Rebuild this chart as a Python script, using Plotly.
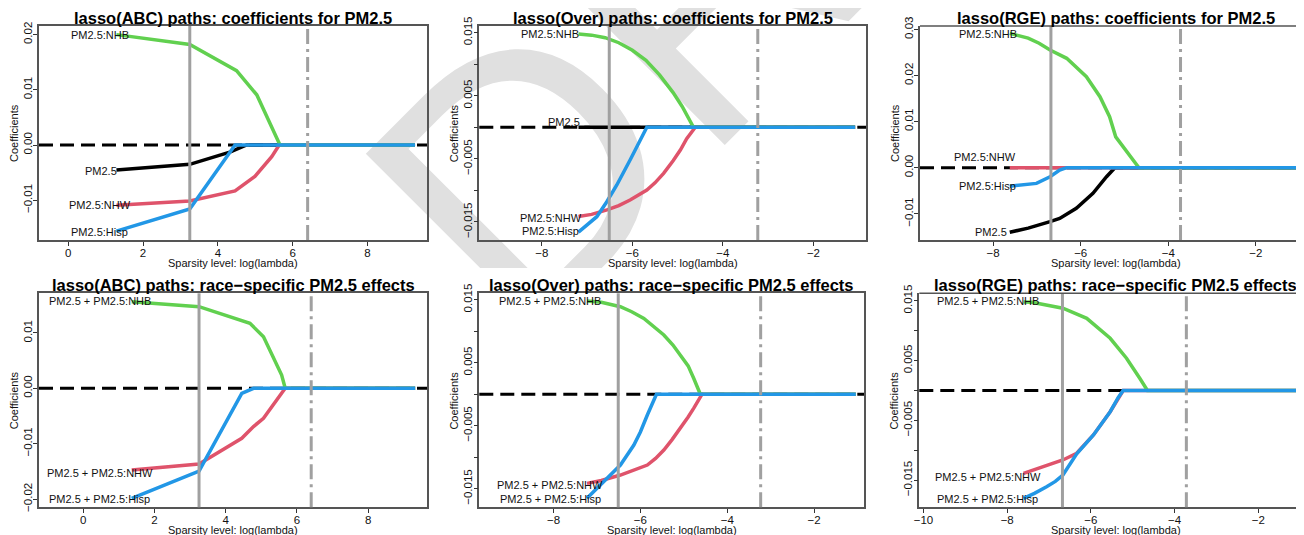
import plotly.graph_objects as go

# ---------------- data ----------------
COLORS = {"pm25": "#000000", "nhw": "#DF536B", "nhb": "#61D04F", "hisp": "#2297E6"}

# Panel 1: lasso(ABC) coefficients, (log(lambda), coefficient)
abc_coef_pm25 = [(1.29, -0.00453), (3.25, -0.0035), (4.32, -0.0013), (4.64, -0.0004), (4.77, 0.0), (9.27, 0.0)]
abc_coef_nhw = [(1.29, -0.0109), (3.25, -0.01015), (4.46, -0.00833), (4.99, -0.0057), (5.44, -0.0021), (5.64, 0.0), (9.27, 0.0)]
abc_coef_nhb = [(1.29, 0.0200), (3.25, 0.0182), (4.50, 0.01346), (5.04, 0.0091), (5.66, 0.0), (9.27, 0.0)]
abc_coef_hisp = [(1.29, -0.0156), (3.25, -0.0116), (4.46, 0.0), (9.27, 0.0)]

# Panel 2: lasso(Over) coefficients
over_coef_pm25 = [(-7.19, 0.0), (-1.08, 0.0)]
over_coef_nhw = [(-7.19, -0.01415), (-6.9, -0.0138), (-6.56, -0.0131), (-6.3, -0.0124), (-6.05, -0.01152),
                 (-5.68, -0.00994), (-5.5, -0.0088), (-5.31, -0.0073), (-5.1, -0.0053), (-4.94, -0.0036),
                 (-4.8, -0.0018), (-4.65, -0.0004), (-4.61, 0.0), (-1.08, 0.0)]
over_coef_nhb = [(-7.19, 0.0148), (-6.9, 0.0146), (-6.6, 0.0142), (-6.3, 0.0134), (-6.0, 0.0122), (-5.7, 0.0106),
                 (-5.4, 0.0083), (-5.1, 0.0055), (-4.9, 0.0033), (-4.75, 0.0012), (-4.65, 0.0), (-1.08, 0.0)]
over_coef_hisp = [(-7.19, -0.0166), (-6.785, -0.01417), (-6.564, -0.01179), (-6.343, -0.00914), (-6.05, -0.00518),
                  (-5.83, -0.0020), (-5.68, 0.0), (-1.08, 0.0)]

# Panel 3: lasso(RGE) coefficients
rge_coef_pm25 = [(-7.62, -0.0140), (-7.2, -0.0131), (-6.70, -0.01171), (-6.48, -0.0110), (-6.10, -0.0088),
                 (-5.72, -0.00556), (-5.41, -0.00195), (-5.22, 0.0), (-1.07, 0.0)]
rge_coef_nhw = [(-7.62, 0.0), (-1.07, 0.0)]
rge_coef_nhb = [(-7.62, 0.02915), (-7.2, 0.0281), (-6.95, 0.0270), (-6.70, 0.02553), (-6.32, 0.02373),
                (-5.87, 0.01974), (-5.56, 0.0154), (-5.34, 0.01106), (-5.20, 0.0067), (-5.03, 0.00456),
                (-4.67, 0.0), (-1.07, 0.0)]
rge_coef_hisp = [(-7.62, -0.0040), (-7.01, -0.0034), (-6.70, -0.00195), (-6.48, -0.0005), (-6.32, 0.0), (-1.07, 0.0)]

# Panel 4: lasso(ABC) race-specific effects
abc_race_nhw = [(1.36, -0.01475), (3.25, -0.01366), (4.45, -0.00903), (4.78, -0.0069), (5.06, -0.00542),
                (5.53, -0.0012), (5.67, 0.0), (9.32, 0.0)]
abc_race_nhb = [(1.36, 0.01563), (3.25, 0.01473), (4.68, 0.01173), (5.06, 0.0093), (5.57, 0.0024), (5.67, 0.0), (9.32, 0.0)]
abc_race_hisp = [(1.36, -0.01986), (3.25, -0.01493), (4.45, -0.0009), (4.78, 0.0), (9.32, 0.0)]

# Panel 5: lasso(Over) race-specific effects
over_race_nhw = [(-7.23, -0.01415), (-6.9, -0.0137), (-6.46, -0.01283), (-6.15, -0.0121), (-5.84, -0.01124),
                 (-5.65, -0.0102), (-5.46, -0.00886), (-5.27, -0.0072), (-5.08, -0.0054), (-4.9, -0.0036),
                 (-4.77, -0.0022), (-4.67, -0.0010), (-4.58, 0.0), (-1.04, 0.0)]
over_race_nhb = [(-7.23, 0.01479), (-6.9, 0.0146), (-6.46, 0.01389), (-6.2, 0.0131), (-5.92, 0.01204), (-5.7, 0.0108),
                 (-5.46, 0.0094), (-5.25, 0.0078), (-5.08, 0.0062), (-4.9, 0.0045), (-4.77, 0.0025), (-4.7, 0.0012),
                 (-4.62, 0.0), (-1.04, 0.0)]
over_race_hisp = [(-7.23, -0.01653), (-6.85, -0.01389), (-6.46, -0.01124), (-6.15, -0.00806), (-6.0, -0.0060),
                  (-5.84, -0.0033), (-5.72, -0.0015), (-5.63, 0.0), (-1.04, 0.0)]

# Panel 6: lasso(RGE) race-specific effects
rge_race_nhw = [(-7.61, -0.01385), (-7.35, -0.0132), (-7.06, -0.01246), (-6.67, -0.01162), (-6.34, -0.0105),
                (-5.94, -0.00744), (-5.54, -0.00355), (-5.35, -0.0012), (-5.23, 0.0), (-1.08, 0.0)]
rge_race_nhb = [(-7.61, 0.0148), (-7.41, 0.01475), (-6.67, 0.01375), (-6.10, 0.01207), (-5.54, 0.00873),
                (-5.15, 0.0054), (-4.83, 0.0020), (-4.65, 0.0), (-1.08, 0.0)]
rge_race_hisp = [(-7.61, -0.01803), (-7.35, -0.0172), (-7.06, -0.01609), (-6.85, -0.0152), (-6.67, -0.01413),
                 (-6.5, -0.0124), (-6.34, -0.0106), (-5.94, -0.00744), (-5.54, -0.00355), (-5.35, -0.0012),
                 (-5.23, 0.0), (-1.08, 0.0)]

# selected lambdas (solid = min, dot-dash = 1se)
abc_lambda = [3.25, 6.40]
over_lambda = [-6.51, -3.23]
rge_lambda = [-6.68, -3.72]

# path labels: (text, x, y)
abc_coef_labels = [("PM2.5:NHB", 0.84, 0.0200), ("PM2.5", 0.87, -0.00465), ("PM2.5:NHW", 0.86, -0.01087), ("PM2.5:Hisp", 0.85, -0.0157)]
over_coef_labels = [("PM2.5:NHB", -7.82, 0.0148), ("PM2.5", -7.51, 0.0009), ("PM2.5:NHW", -7.80, -0.0144), ("PM2.5:Hisp", -7.80, -0.0165)]
rge_coef_labels = [("PM2.5:NHB", -8.12, 0.0291), ("PM2.5:NHW", -8.18, 0.0024), ("PM2.5:Hisp", -8.12, -0.0040), ("PM2.5", -8.05, -0.0140)]
abc_race_labels = [("PM2.5 + PM2.5:NHB", 0.47, 0.01576), ("PM2.5 + PM2.5:NHW", 0.46, -0.01534), ("PM2.5 + PM2.5:Hisp", 0.46, -0.02004)]
over_race_labels = [("PM2.5 + PM2.5:NHB", -8.08, 0.0148), ("PM2.5 + PM2.5:NHW", -8.08, -0.0144), ("PM2.5 + PM2.5:Hisp", -8.08, -0.0166)]
rge_race_labels = [("PM2.5 + PM2.5:NHB", -8.46, 0.0149), ("PM2.5 + PM2.5:NHW", -8.46, -0.0144), ("PM2.5 + PM2.5:Hisp", -8.46, -0.0182)]

titles = ["lasso(ABC) paths: coefficients for PM2.5", "lasso(Over) paths: coefficients for PM2.5",
          "lasso(RGE) paths: coefficients for PM2.5", "lasso(ABC) paths: race\u2212specific PM2.5 effects",
          "lasso(Over) paths: race\u2212specific PM2.5 effects", "lasso(RGE) paths: race\u2212specific PM2.5 effects"]

xticks_pos = [0, 2, 4, 6, 8]
xticks_neg = [-8, -6, -4, -2]
xticks_neg10 = [-10, -8, -6, -4, -2]
yticks_a = [-0.01, 0.0, 0.01, 0.02]
yticks_b = [-0.015, -0.01, -0.005, 0.0, 0.005, 0.01, 0.015]
yticks_c = [-0.01, 0.0, 0.01, 0.02, 0.03]
yticks_d = [-0.02, -0.01, 0.0, 0.01]

XLABEL = "Sparsity level: log(lambda)"
YLABEL = "Coefficients"
WATERMARK = "DRAFT"

# ---------------- geometry ----------------
# The page body has an 8px margin, so the figure starts at (8, 8) of the 1304x535 window.
OFF = 8
VW, VH = 1304, 535
W, H = VW - OFF, VH - OFF
FONT = "Liberation Sans, Arial, Helvetica, sans-serif"
ROW_TOP = (26, 240)
ROW_BOT = (293.3, 507.3)

def pxx(px):  # window pixel x -> paper x
    return (px - OFF) / W

def pxy(py):  # window pixel y -> paper y
    return 1 - (py - OFF) / H

def fmt_y(v, dec, show=True):
    if not show:
        return ""
    s = f"{abs(v):.{dec}f}"
    return ("\u2212" + s) if v < 0 else s

def fmt_x(v):
    return ("\u2212" + str(abs(v))) if v < 0 else str(v)

panels = [
    dict(series=[("pm25", abc_coef_pm25), ("nhw", abc_coef_nhw), ("nhb", abc_coef_nhb), ("hisp", abc_coef_hisp)],
         labels=abc_coef_labels, lam=abc_lambda, box=(39, 427), row=ROW_TOP,
         xr=[-0.78, 9.59], yr=[-0.01721, 0.02156], xt=xticks_pos,
         yt=yticks_a, ytt=[fmt_y(v, 2) for v in yticks_a], cropped=False),
    dict(series=[("pm25", over_coef_pm25), ("nhw", over_coef_nhw), ("nhb", over_coef_nhb), ("hisp", over_coef_hisp)],
         labels=over_coef_labels, lam=over_lambda, box=(479.3, 866), row=ROW_TOP,
         xr=[-9.38, -0.84], yr=[-0.01786, 0.01605], xt=xticks_neg,
         yt=yticks_b, ytt=[fmt_y(v, 3, k % 2 == 0) for k, v in enumerate(yticks_b)], cropped=False),
    dict(series=[("pm25", rge_coef_pm25), ("nhw", rge_coef_nhw), ("nhb", rge_coef_nhb), ("hisp", rge_coef_hisp)],
         labels=rge_coef_labels, lam=rge_lambda, box=(920, 1304), row=ROW_TOP,
         xr=[-9.67, -0.90], yr=[-0.01568, 0.03074], xt=xticks_neg,
         yt=yticks_c, ytt=[fmt_y(v, 2) for v in yticks_c], cropped=True),
    dict(series=[("nhw", abc_race_nhw), ("nhb", abc_race_nhb), ("hisp", abc_race_hisp)],
         labels=abc_race_labels, lam=abc_lambda, box=(39, 427.3), row=ROW_BOT,
         xr=[-1.244, 9.66], yr=[-0.02148, 0.01715], xt=xticks_pos,
         yt=yticks_d, ytt=[fmt_y(v, 2) for v in yticks_d], cropped=False),
    dict(series=[("nhw", over_race_nhw), ("nhb", over_race_nhb), ("hisp", over_race_hisp)],
         labels=over_race_labels, lam=over_lambda, box=(479.3, 864), row=ROW_BOT,
         xr=[-9.71, -0.85], yr=[-0.01795, 0.01602], xt=xticks_neg,
         yt=yticks_b, ytt=[fmt_y(v, 3, k % 2 == 0) for k, v in enumerate(yticks_b)], cropped=False),
    dict(series=[("nhw", rge_race_nhw), ("nhb", rge_race_nhb), ("hisp", rge_race_hisp)],
         labels=rge_race_labels, lam=rge_lambda, box=(919.3, 1304), row=ROW_BOT,
         xr=[-10.1, -0.91], yr=[-0.01953, 0.01625], xt=xticks_neg10,
         yt=yticks_b, ytt=[fmt_y(v, 3, k % 2 == 0) for k, v in enumerate(yticks_b)], cropped=True),
]

fig = go.Figure()
shapes = []
annotations = []
layout_axes = {}

# ---- watermark: first subplot (drawn underneath everything), clipped to the upper figure ----
WM_SIZE = 360
WM_CX, WM_CY = 358 + 1.383 * WM_SIZE, 147 - 0.861 * WM_SIZE   # window pixels of the text centre
WM_CLIP_BOTTOM = 268
fig.add_trace(go.Bar(x=[WM_CX], y=[2], base=[WM_CY - 1], width=[2], xaxis="x", yaxis="y",
                     marker=dict(color="rgba(0,0,0,0)", line=dict(width=0)),
                     text=[WATERMARK], textposition="inside", insidetextanchor="middle",
                     textangle=-45, constraintext="none", cliponaxis=True,
                     insidetextfont=dict(family=FONT, size=WM_SIZE, color="#E0E0E0"),
                     showlegend=False, hoverinfo="skip"))
layout_axes["xaxis"] = dict(domain=[0, 1], range=[OFF, VW], visible=False, fixedrange=True, automargin=False)
layout_axes["yaxis"] = dict(domain=[pxy(WM_CLIP_BOTTOM), 1], range=[WM_CLIP_BOTTOM, OFF], visible=False,
                            fixedrange=True, automargin=False)

AXIS_COLOR = "#555555"
for i, p in enumerate(panels, start=2):
    xa, ya = f"x{i}", f"y{i}"
    xk, yk = f"xaxis{i}", f"yaxis{i}"
    bx0, bx1 = p["box"]
    ry0, ry1 = p["row"]
    mirror = not p["cropped"]
    full_right = 1312 if p["cropped"] else bx1   # cropped panels continue past the picture edge

    # zero reference line
    shapes.append(dict(type="line", xref=f"{xa} domain", yref=ya, x0=0, x1=1, y0=0, y1=0, layer="below",
                       line=dict(color="black", width=3, dash="14px,7px")))
    # paths
    for name, pts in p["series"]:
        fig.add_trace(go.Scatter(x=[a for a, b in pts], y=[b for a, b in pts], mode="lines",
                                 line=dict(color=COLORS[name], width=3.5), xaxis=xa, yaxis=ya,
                                 showlegend=False, hoverinfo="skip"))
    # selected lambda lines
    shapes.append(dict(type="line", xref=xa, yref=f"{ya} domain", x0=p["lam"][0], x1=p["lam"][0], y0=0, y1=1,
                       line=dict(color="#A0A0A0", width=3)))
    shapes.append(dict(type="line", xref=xa, yref=f"{ya} domain", x0=p["lam"][1], x1=p["lam"][1], y0=0, y1=1,
                       line=dict(color="#A0A0A0", width=3, dash="15px,5px,3px,5px")))
    # top border for the cropped right-hand panels
    if p["cropped"]:
        shapes.append(dict(type="line", xref="paper", yref="paper", x0=pxx(bx0), x1=1, y0=pxy(ry0), y1=pxy(ry0),
                           line=dict(color=AXIS_COLOR, width=1.5)))

    common = dict(ticks="outside", ticklen=4, tickwidth=1, tickcolor="#333", showline=True,
                  linecolor=AXIS_COLOR, linewidth=1.5, mirror=mirror, showgrid=False, zeroline=False,
                  automargin=False, ticklabelstandoff=-3, tickfont=dict(family=FONT, size=11.5, color="#111"))
    layout_axes[xk] = dict(domain=[pxx(bx0), min(1, pxx(bx1))], range=p["xr"], anchor=ya, tickvals=p["xt"],
                           ticktext=[fmt_x(v) for v in p["xt"]], **common)
    layout_axes[yk] = dict(domain=[pxy(ry1), pxy(ry0)], range=p["yr"], anchor=xa, tickvals=p["yt"],
                           ticktext=p["ytt"], tickangle=-90, **common)

    # title
    annotations.append(dict(text=f"<b>{titles[i-2]}</b>", xref="paper", yref="paper",
                            x=pxx((bx0 + full_right) / 2), y=pxy(ry0), xanchor="center", yanchor="bottom",
                            showarrow=False, yshift=-3, font=dict(family=FONT, size=16.5, color="black")))
    # axis titles
    annotations.append(dict(text=XLABEL, xref="paper", yref="paper", x=pxx((bx0 + full_right) / 2),
                            y=pxy(ry1 + 22.5), xanchor="center", yanchor="middle", showarrow=False,
                            font=dict(family=FONT, size=11, color="#111")))
    annotations.append(dict(text=YLABEL, xref="paper", yref="paper", x=pxx(bx0 - 25), y=pxy((ry0 + ry1) / 2),
                            xanchor="center", yanchor="middle", showarrow=False, textangle=-90,
                            font=dict(family=FONT, size=11, color="#111")))
    # path labels
    for txt, lx, ly in p["labels"]:
        annotations.append(dict(text=txt, xref=xa, yref=ya, x=lx, y=ly, xanchor="center", yanchor="middle",
                                showarrow=False, font=dict(family=FONT, size=11, color="#111")))

fig.update_layout(width=W, height=H, margin=dict(l=0, r=0, t=0, b=0, pad=0), autosize=False,
                  paper_bgcolor="white", plot_bgcolor="rgba(0,0,0,0)", shapes=shapes,
                  annotations=annotations, **layout_axes)

fig.write_html("out.html")
